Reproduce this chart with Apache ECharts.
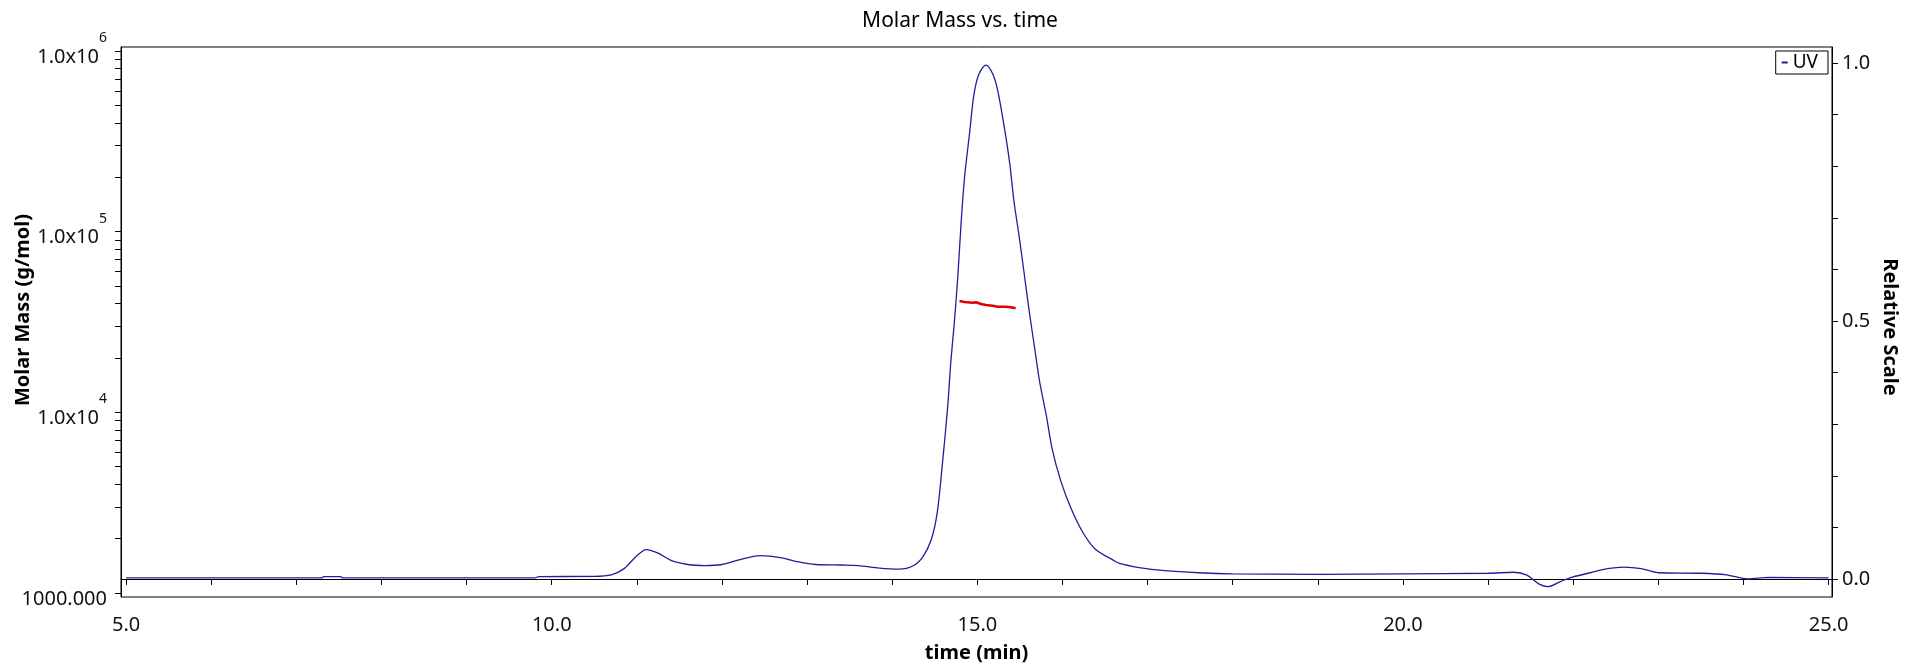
<!DOCTYPE html>
<html>
<head>
<meta charset="utf-8">
<title>Molar Mass vs. time</title>
<script src="https://cdn.jsdelivr.net/npm/echarts@6/dist/echarts.min.js"></script>
<style>
  html, body { margin: 0; padding: 0; background: #fff; }
  #chart { width: 1920px; height: 672px; }
</style>
</head>
<body>
<div id="chart"></div>
<script>
// UV trace (relative scale, right axis)
const uvTime = [5.0, 7.3, 7.32, 7.52, 7.54, 9.8, 9.85, 10.5, 10.7, 10.85, 11.0, 11.11, 11.25, 11.4, 11.6, 11.8, 12.0, 12.2, 12.45, 12.7, 12.9, 13.1, 13.4, 13.6, 13.85, 14.08, 14.24, 14.36, 14.46, 14.53, 14.59, 14.65, 14.69, 14.73, 14.77, 14.81, 14.85, 14.91, 14.96, 15.02, 15.10, 15.18, 15.24, 15.32, 15.38, 15.43, 15.49, 15.55, 15.61, 15.67, 15.73, 15.81, 15.88, 15.98, 16.10, 16.24, 16.39, 16.59, 16.67, 16.9, 17.2, 17.6, 18.0, 19.0, 20.0, 21.0, 21.3, 21.45, 21.6, 21.7, 21.85, 22.0, 22.2, 22.4, 22.6, 22.8, 23.0, 23.5, 23.8, 24.05, 24.3, 25.0];
const uvValue = [0.002, 0.002, 0.0045, 0.0045, 0.002, 0.002, 0.0045, 0.005, 0.008, 0.02, 0.045, 0.057, 0.05, 0.036, 0.028, 0.026, 0.028, 0.037, 0.045, 0.041, 0.033, 0.028, 0.027, 0.026, 0.021, 0.019, 0.025, 0.043, 0.077, 0.13, 0.224, 0.331, 0.424, 0.498, 0.585, 0.692, 0.779, 0.866, 0.939, 0.979, 0.996, 0.979, 0.946, 0.872, 0.806, 0.732, 0.665, 0.592, 0.518, 0.451, 0.384, 0.317, 0.251, 0.19, 0.137, 0.09, 0.057, 0.037, 0.03, 0.022, 0.016, 0.012, 0.01, 0.009, 0.01, 0.011, 0.013, 0.008, -0.01, -0.015, -0.005, 0.004, 0.012, 0.02, 0.023, 0.02, 0.012, 0.011, 0.008, 0.0, 0.003, 0.002];

// molar mass across the peak (left log axis)
const massTime = [14.79, 14.85, 14.945, 14.985, 15.043, 15.10, 15.18, 15.24, 15.335, 15.394, 15.45];
const massValue = [41300, 40800, 40450, 40650, 39780, 39280, 38930, 38440, 38440, 38140, 37660];

const timeTicks = [5, 6, 7, 8, 9, 10, 11, 12, 13, 14, 15, 16, 17, 18, 19, 20, 21, 22, 23, 24, 25];
const timeLabels = [5, 10, 15, 20, 25];
const massTicks = [1000, 2000, 3000, 4000, 5000, 6000, 7000, 8000, 9000,
  10000, 20000, 30000, 40000, 50000, 60000, 70000, 80000, 90000,
  100000, 200000, 300000, 400000, 500000, 600000, 700000, 800000, 900000, 1000000];
const massLabels = [1000, 10000, 100000, 1000000];
const scaleTicks = [0, 0.1, 0.2, 0.3, 0.4, 0.5, 0.6, 0.7, 0.8, 0.9, 1.0];
const scaleLabels = [0, 0.5, 1.0];

const massMin = 950.4;
const massMax = 1052000;

const font = "Noto Sans";
const chart = echarts.init(document.getElementById("chart"));

const axisLine = { show: true, lineStyle: { color: "#000", width: 1 } };
const axisTick = (values) => ({
  show: true,
  inside: false,
  length: 6,
  customValues: values,
  lineStyle: { color: "#000", width: 1 }
});

const option = {
  animation: false,
  backgroundColor: "#fff",
  title: {
    text: "Molar Mass vs. time",
    left: "center",
    top: 6,
    textStyle: { fontFamily: font, fontSize: 21, fontWeight: "normal", color: "#000" }
  },
  legend: {
    data: ["UV"],
    right: 92,
    top: 51,
    orient: "vertical",
    icon: "rect",
    itemWidth: 6,
    itemHeight: 2,
    itemGap: 0,
    padding: [2, 10, 2, 6],
    borderColor: "#000",
    borderWidth: 1,
    textStyle: { fontFamily: font, fontSize: 19, color: "#000" }
  },
  grid: {
    left: 121,
    right: 88,
    top: 47,
    bottom: 75,
    containLabel: false,
    outerBoundsMode: "none",
    show: true,
    borderColor: "#000",
    borderWidth: 1
  },
  xAxis: {
    type: "value",
    min: 4.94,
    max: 25.04,
    name: "time (min)",
    nameLocation: "middle",
    nameGap: 46,
    nameMoveOverlap: false,
    nameTextStyle: { fontFamily: font, fontSize: 20, fontWeight: "bold", color: "#000" },
    axisLine: axisLine,
    axisTick: axisTick(timeTicks),
    splitLine: { show: false },
    axisLabel: {
      customValues: timeLabels,
      margin: 18,
      fontFamily: font,
      fontSize: 20,
      color: "#111",
      formatter: (v) => v.toFixed(1)
    }
  },
  yAxis: [
    {
      type: "log",
      min: massMin,
      max: massMax,
      position: "left",
      name: "Molar Mass (g/mol)",
      nameLocation: "middle",
      nameGap: 88,
      nameRotate: 90,
      nameMoveOverlap: false,
      nameTextStyle: {
        fontFamily: font, fontSize: 20, fontWeight: "bold", color: "#000",
        padding: [0, 0, 0, 24]
      },
      axisLine: axisLine,
      axisTick: { show: false },
      minorTick: { show: false },
      splitLine: { show: false },
      axisLabel: {
        customValues: massLabels,
        margin: 14,
        color: "#111",
        formatter: (v) => {
          if (v < 5000) return "{m|1000.000}";
          return "{m|1.0x10}{s|" + Math.round(Math.log10(v)) + "}";
        },
        rich: {
          m: { fontFamily: font, fontSize: 20, color: "#111", padding: [12, 0, 0, 0] },
          s: { fontFamily: font, fontSize: 14, color: "#111", padding: [0, 0, 26, 0] }
        }
      }
    },
    {
      type: "value",
      min: -0.035,
      max: 1.031,
      position: "right",
      name: "Relative Scale",
      nameLocation: "middle",
      nameGap: 48,
      nameRotate: -90,
      nameMoveOverlap: false,
      nameTextStyle: {
        fontFamily: font, fontSize: 20, fontWeight: "bold", color: "#000",
        padding: [0, 0, 0, 10]
      },
      axisLine: axisLine,
      axisTick: axisTick(scaleTicks),
      splitLine: { show: false },
      axisLabel: {
        customValues: scaleLabels,
        margin: 10,
        fontFamily: font,
        fontSize: 20,
        color: "#111",
        padding: [6, 0, 0, 0],
        formatter: (v) => v.toFixed(1)
      }
    },
    {
      // tick-only twin of the log axis, so the 2..9 minor ticks land where the log scale puts them
      type: "value",
      min: Math.log10(massMin),
      max: Math.log10(massMax),
      position: "left",
      offset: 0,
      axisLine: { show: false },
      axisTick: axisTick(massTicks.map((v) => Math.log10(v))),
      axisLabel: { show: false },
      splitLine: { show: false }
    }
  ],
  series: [
    {
      name: "UV",
      type: "line",
      yAxisIndex: 1,
      data: uvTime.map((t, i) => [t, uvValue[i]]),
      showSymbol: false,
      smooth: 0.3,
      lineStyle: { color: "#1f1f9a", width: 1.3 },
      itemStyle: { color: "#1f1f9a" }
    },
    {
      name: "Molar Mass",
      type: "line",
      yAxisIndex: 0,
      data: massTime.map((t, i) => [t, massValue[i]]),
      showSymbol: false,
      lineStyle: { color: "#e00000", width: 2.5 },
      itemStyle: { color: "#e00000" }
    }
  ]
};

chart.setOption(option);
window.addEventListener("resize", () => chart.resize());
</script>
</body>
</html>
